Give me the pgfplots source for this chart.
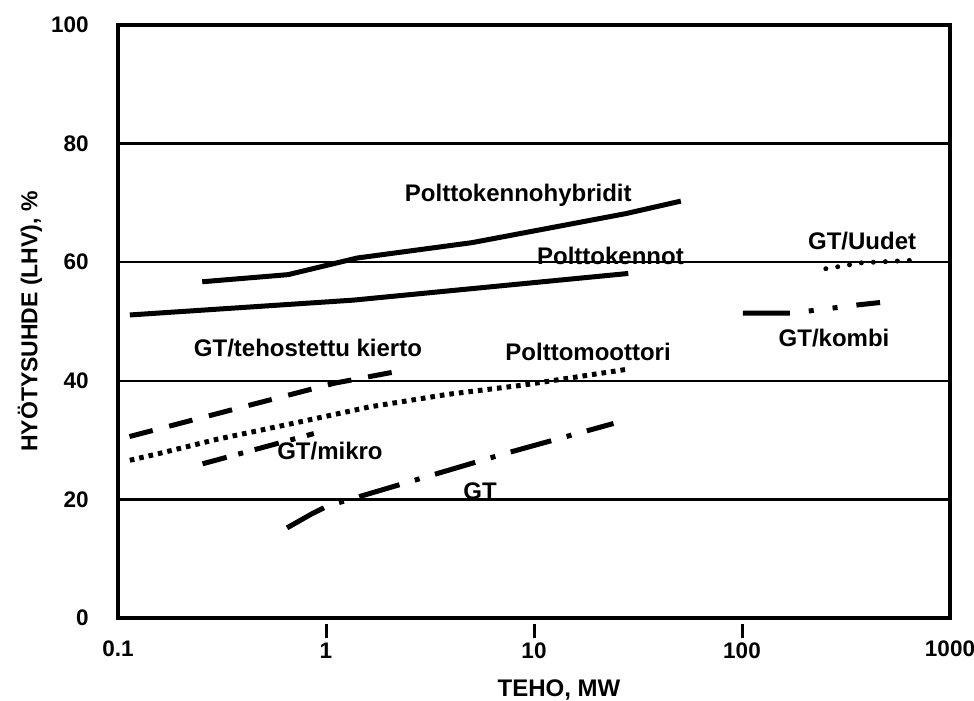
\documentclass[border=0pt]{standalone}
\usepackage{fontspec}
\setmainfont{Liberation Sans}
\usepackage{pgfplots}
\pgfplotsset{compat=1.18}
\begin{document}
\begin{tikzpicture}
\begin{axis}[
  name=ax,
  at={(0pt,0pt)}, anchor=south west,
  scale only axis, width=832pt, height=593pt,
  xmode=log, xmin=0.1, xmax=1000, ymin=0, ymax=100,
  axis line style={line width=4.6pt},
  ytick={0,20,40,60,80,100},
  ymajorgrids, grid style={black, line width=2.3pt},
  ytick style={draw=none},
  xtick={1,10,100}, xticklabels={1,10,100},
  extra x ticks={0.1,1000}, extra x tick labels={0.1,1000},
  extra x tick style={major tick length=0pt, grid=none, xticklabel style={yshift=-12pt}},
  xtick pos=bottom, tick align=outside,
  major tick length=14pt,
  xtick style={line width=3pt, black, yshift=-6pt},
  minor tick num=0, xminorticks=false,
  /pgf/number format/assume math mode=true,
  ticklabel style={font=\fontsize{22.5}{26}\selectfont\bfseries},
  xticklabel style={yshift=-7pt},
  yticklabel style={xshift=-12pt},
  xlabel={TEHO, MW}, ylabel={HYÖTYSUHDE (LHV), \%},
  xlabel style={font=\fontsize{24}{28}\selectfont\bfseries, at={(axis description cs:0.53,0)}, anchor=north, inner sep=0pt, yshift=-62pt},
  ylabel style={font=\fontsize{23}{27}\selectfont\bfseries, at={(axis description cs:0,0.5)}, anchor=center, inner sep=0pt, yshift=88pt},
  every axis plot/.append style={black, line width=5pt},
  clip=false,
]
% Polttokennohybridit
\addplot[] coordinates {(0.254,56.7) (0.657,57.9) (1.41,60.7) (5.04,63.3) (27.7,68.2) (50.8,70.3)};
% Polttokennot
\addplot[] coordinates {(0.114,51.1) (1.35,53.6) (28.4,58.1)};
% GT/tehostettu kierto
\addplot[dash pattern=on 24pt off 17pt] coordinates {(0.1136,30.6) (0.453,36.1) (1.10,39.6) (2.29,41.7)};
% Polttomoottori
\addplot[dash pattern=on 4.6pt off 5pt] coordinates {(0.114,26.6) (0.156,27.7) (0.296,30.1) (0.69,32.8) (1.62,35.6) (3.82,37.7) (8.97,39.3) (27.5,41.9)};
% GT/mikro
\addplot[dash pattern=on 25pt off 12pt on 5pt off 12pt] coordinates {(0.255,26.0) (0.874,31.1)};
% GT
\addplot[dash pattern=on 42pt off 16pt on 5pt off 16pt] coordinates {(0.65,15.2) (0.858,17.6) (1.02,18.9) (7.2,27.7) (24.1,32.8)};
% GT/Uudet
\addplot[line cap=round, dash pattern=on 0pt off 12pt] coordinates {(253,58.9) (376,59.9) (643,60.3)};
% GT/kombi
\addplot[dash pattern=on 47pt off 19pt on 5pt off 19pt on 5pt off 19pt] coordinates {(101,51.4) (173,51.4) (361,52.8) (461,53.2)};

\begin{scope}[every node/.style={font=\fontsize{24}{28}\selectfont\bfseries}]
\node at (axis cs:8.4,71.3) {Polttokennohybridit};
\node at (axis cs:23.3,61.0) {Polttokennot};
\node at (axis cs:378,63.6) {GT/Uudet};
\node at (axis cs:277,47.2) {GT/kombi};
\node at (axis cs:0.819,45.5) {GT/tehostettu kierto};
\node at (axis cs:18.2,44.9) {Polttomoottori};
\node at (axis cs:1.045,28.2) {GT/mikro};
\node at (axis cs:5.5,21.3) {GT};
\end{scope}
\end{axis}
\pgfresetboundingbox
\path[use as bounding box] (-118pt,-83pt) rectangle (856pt,618pt);
\end{tikzpicture}
\end{document}
